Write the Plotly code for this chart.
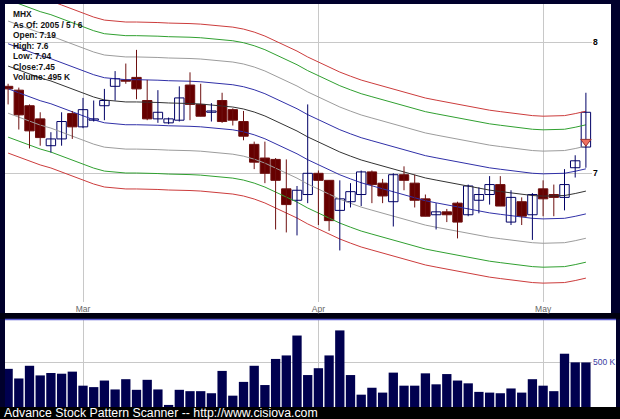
import plotly.graph_objects as go

# ---------------- data ----------------
dates = [
    "2005-02-17", "2005-02-18", "2005-02-22", "2005-02-23", "2005-02-24", "2005-02-25", "2005-02-28",
    "2005-03-01", "2005-03-02", "2005-03-03", "2005-03-04", "2005-03-07", "2005-03-08", "2005-03-09",
    "2005-03-10", "2005-03-11", "2005-03-14", "2005-03-15", "2005-03-16", "2005-03-17", "2005-03-18",
    "2005-03-21", "2005-03-22", "2005-03-23", "2005-03-24", "2005-03-28", "2005-03-29", "2005-03-30",
    "2005-03-31", "2005-04-01", "2005-04-04", "2005-04-05", "2005-04-06", "2005-04-07", "2005-04-08",
    "2005-04-11", "2005-04-12", "2005-04-13", "2005-04-14", "2005-04-15", "2005-04-18", "2005-04-19",
    "2005-04-20", "2005-04-21", "2005-04-22", "2005-04-25", "2005-04-26", "2005-04-27", "2005-04-28",
    "2005-04-29", "2005-05-02", "2005-05-03", "2005-05-04", "2005-05-05", "2005-05-06",
]
opens = [7.65, 7.62, 7.50, 7.40, 7.20, 7.25, 7.44, 7.34, 7.39, 7.50, 7.65, 7.70, 7.72, 7.54, 7.40,
         7.37, 7.39, 7.66, 7.51, 7.45, 7.54, 7.47, 7.38, 7.21, 7.11, 7.10, 6.89, 6.81, 6.85, 7.00,
         6.95, 6.74, 6.80, 6.85, 7.01, 6.93, 6.80, 6.99, 6.93, 6.82, 6.71, 6.73, 6.79, 6.71, 6.81,
         6.85, 6.92, 6.66, 6.80, 6.71, 6.89, 6.85, 6.83, 7.04, 7.19]
highs = [7.67, 7.64, 7.51, 7.45, 7.30, 7.45, 7.46, 7.56, 7.54, 7.63, 7.77, 7.83, 7.94, 7.70, 7.62,
         7.41, 7.65, 7.76, 7.67, 7.52, 7.60, 7.48, 7.46, 7.23, 7.23, 7.11, 7.10, 6.91, 7.51, 7.02,
         6.95, 6.95, 6.93, 7.02, 7.02, 6.96, 7.00, 7.05, 6.99, 6.85, 6.79, 6.75, 6.80, 6.92, 6.90,
         6.98, 6.98, 6.88, 6.83, 6.86, 6.95, 6.92, 7.03, 7.13, 7.60]
lows = [7.51, 7.32, 7.18, 7.20, 7.15, 7.20, 7.25, 7.33, 7.38, 7.39, 7.54, 7.67, 7.55, 7.39, 7.37,
        7.36, 7.38, 7.39, 7.42, 7.38, 7.37, 7.35, 7.24, 7.03, 6.93, 6.61, 6.59, 6.57, 6.79, 6.64,
        6.60, 6.47, 6.76, 6.77, 6.79, 6.79, 6.63, 6.88, 6.76, 6.70, 6.61, 6.66, 6.55, 6.70, 6.72,
        6.78, 6.77, 6.64, 6.64, 6.54, 6.70, 6.70, 6.74, 6.97, 7.04]
closes = [7.63, 7.43, 7.31, 7.26, 7.25, 7.38, 7.34, 7.47, 7.40, 7.54, 7.71, 7.69, 7.63, 7.40, 7.45,
          7.40, 7.56, 7.51, 7.42, 7.46, 7.38, 7.39, 7.27, 7.08, 7.00, 6.95, 6.78, 6.88, 7.00, 6.95,
          6.67, 6.82, 6.87, 7.01, 6.92, 6.84, 6.99, 6.95, 6.81, 6.70, 6.73, 6.71, 6.66, 6.91, 6.85,
          6.92, 6.77, 6.83, 6.70, 6.85, 6.82, 6.83, 6.92, 7.09, 7.45]
volume_k = [424, 317, 458, 351, 378, 370, 393, 237, 221, 294, 195, 309, 191, 302, 195, 23, 191, 176,
            176, 153, 401, 126, 279, 458, 244, 534, 573, 794, 355, 431, 573, 851, 355, 137, 214, 160,
            382, 237, 237, 374, 252, 366, 294, 263, 168, 160, 153, 206, 160, 309, 237, 176, 592, 496,
            495]
center_line = [7.810, 7.779, 7.747, 7.716, 7.692, 7.661, 7.629, 7.598, 7.567, 7.544, 7.537, 7.529,
               7.529, 7.529, 7.525, 7.521, 7.521, 7.517, 7.513, 7.506, 7.498, 7.490, 7.475, 7.452,
               7.422, 7.384, 7.347, 7.309, 7.265, 7.228, 7.191, 7.154, 7.124, 7.096, 7.074, 7.053,
               7.031, 7.010, 6.988, 6.967, 6.952, 6.938, 6.920, 6.906, 6.892, 6.881, 6.871, 6.861,
               6.850, 6.843, 6.839, 6.839, 6.843, 6.857, 6.874]
envelope_pct = [0.023, 0.047, 0.070, 0.085]
envelope_colors = ["#3030a8", "#9c9c9c", "#30a030", "#cc3c3c"]
signal_price = 7.23

symbol = "MHX"
as_of = "2005 / 5 / 6"
month_ticks = ["2005-03-01", "2005-04-01", "2005-05-02"]
month_labels = ["Mar", "Apr", "May"]
price_ticks = [7, 8]
volume_ticks = [500000]
volume_tick_labels = ["500 K"]

# ---------------- geometry helpers (pixel -> paper) ----------------
W, H = 620, 419
ML, MR, MT, MB = 5, 28, 4, 12
PW, PH = W - ML - MR, H - MT - MB


def paper_x(px):
    return (px - ML) / PW


def paper_y(py):
    return (H - MB - py) / PH


FONT = "Liberation Sans"
GRID = "#c8c8c8"
UP_LINE, DOWN_FILL, DOWN_LINE = "#000066", "#660000", "#6e1010"
BODY_WIDTH = 0.88

fig = go.Figure()

# envelope bands around the centre line
for pct, col in zip(envelope_pct, envelope_colors):
    for sign in (1, -1):
        fig.add_trace(go.Scatter(
            x=dates, y=[c * (1 + sign * pct) for c in center_line],
            mode="lines", line=dict(color=col, width=1),
            hoverinfo="skip", xaxis="x", yaxis="y"))
fig.add_trace(go.Scatter(
    x=dates, y=center_line, mode="lines", line=dict(color="#333333", width=1),
    hoverinfo="skip", xaxis="x", yaxis="y"))

# candles: wicks first, then bodies on top
up_idx = [i for i in range(len(dates)) if closes[i] > opens[i]]
dn_idx = [i for i in range(len(dates)) if closes[i] <= opens[i]]


def wick_xy(idx):
    xs, ys = [], []
    for i in idx:
        xs += [dates[i], dates[i], None]
        ys += [lows[i], highs[i], None]
    return xs, ys


for idx, col in ((up_idx, UP_LINE), (dn_idx, DOWN_LINE)):
    wx, wy = wick_xy(idx)
    fig.add_trace(go.Scatter(x=wx, y=wy, mode="lines", line=dict(color=col, width=1),
                             hoverinfo="skip", xaxis="x", yaxis="y"))

fig.add_trace(go.Bar(
    x=[dates[i] for i in up_idx], base=[opens[i] for i in up_idx],
    y=[closes[i] - opens[i] for i in up_idx], width=BODY_WIDTH,
    marker=dict(color="#ffffff", line=dict(color=UP_LINE, width=1)),
    hoverinfo="skip", xaxis="x", yaxis="y"))
fig.add_trace(go.Bar(
    x=[dates[i] for i in dn_idx], base=[closes[i] for i in dn_idx],
    y=[opens[i] - closes[i] for i in dn_idx], width=BODY_WIDTH,
    marker=dict(color=DOWN_FILL, line=dict(color=DOWN_LINE, width=1)),
    hoverinfo="skip", xaxis="x", yaxis="y"))

# pattern signal on the last bar
fig.add_trace(go.Scatter(
    x=[dates[-1]], y=[signal_price], mode="markers",
    marker=dict(symbol="triangle-down", size=9, color="#f07060",
                line=dict(color="#993333", width=1)),
    hoverinfo="skip", xaxis="x", yaxis="y"))

# volume bars
fig.add_trace(go.Bar(
    x=dates, y=[v * 1000 for v in volume_k], width=0.87,
    marker=dict(color="#00004f", line=dict(width=0)),
    xaxis="x2", yaxis="y2"))

# panel backgrounds and borders
shapes = [
    dict(type="rect", xref="paper", yref="paper", layer="below",
         x0=paper_x(5), x1=paper_x(611), y0=paper_y(313), y1=paper_y(4),
         fillcolor="white", line=dict(width=0)),
    dict(type="rect", xref="paper", yref="paper", layer="below",
         x0=paper_x(0), x1=paper_x(620), y0=paper_y(319), y1=paper_y(313),
         fillcolor="#000010", line=dict(width=0)),
    dict(type="rect", xref="paper", yref="paper", layer="below",
         x0=paper_x(5), x1=paper_x(616), y0=paper_y(407), y1=paper_y(319),
         fillcolor="white", line=dict(width=0)),
    dict(type="line", xref="paper", yref="paper", layer="above",
         x0=paper_x(5), x1=paper_x(616), y0=paper_y(319.5), y1=paper_y(319.5),
         line=dict(color="#5a5ad0", width=1.5)),
    dict(type="rect", xref="paper", yref="paper", layer="below",
         x0=paper_x(0), x1=paper_x(620), y0=paper_y(419), y1=paper_y(407),
         fillcolor="#000000", line=dict(width=0)),
]

# quote summary in the upper-left corner
info_lines = [
    symbol,
    f"As Of: {as_of}",
    f"Open: {opens[-1]:g}",
    f"High: {highs[-1]:g}",
    f"Low: {lows[-1]:g}",
    f"Close:{closes[-1]:g}",
    f"Volume: {volume_k[-1]} K",
]
annotations = []
for k, line in enumerate(info_lines):
    annotations.append(dict(
        xref="paper", yref="paper", x=paper_x(11), y=paper_y(14.5 + 10.45 * k),
        xanchor="left", yanchor="middle", showarrow=False, text=line,
        font=dict(family=FONT, size=8.4, color="#111111", weight="bold")))

annotations.append(dict(
    xref="paper", yref="paper", x=paper_x(2), y=paper_y(413),
    xanchor="left", yanchor="middle", showarrow=False,
    text="Advance Stock Pattern Scanner -- http://www.cisiova.com",
    font=dict(family=FONT, size=12.3, color="white")))

price_dom = [paper_y(302), 1.0]
vol_dom = [0.0, paper_y(319)]

fig.update_layout(
    width=W, height=H,
    margin=dict(l=ML, r=MR, t=MT, b=MB, pad=0),
    paper_bgcolor="#00002c", plot_bgcolor="rgba(0,0,0,0)",
    showlegend=False, barmode="overlay",
    shapes=shapes, annotations=annotations,
    xaxis=dict(
        type="category", categoryorder="array", categoryarray=dates,
        range=[-0.29, 54.57], domain=[0, 1], anchor="y",
        tickmode="array", tickvals=month_ticks, ticktext=month_labels,
        tickfont=dict(family=FONT, size=8.5, color="#666666"),
        showgrid=True, gridcolor=GRID, gridwidth=1, ticks="",
        showline=False, zeroline=False),
    yaxis=dict(
        type="log", range=[0.788045, 0.920158], domain=price_dom, anchor="x",
        side="right", tickmode="array", tickvals=price_ticks,
        ticktext=[str(t) for t in price_ticks],
        tickfont=dict(family=FONT, size=8.5, color="#000000", weight="bold"),
        showgrid=True, gridcolor=GRID, gridwidth=1, ticks="",
        showline=False, zeroline=False),
    xaxis2=dict(
        type="category", matches="x", anchor="y2", domain=[0, 1],
        tickmode="array", tickvals=month_ticks, showticklabels=False,
        showgrid=True, gridcolor=GRID, gridwidth=1, ticks="",
        showline=False, zeroline=False),
    yaxis2=dict(
        range=[0, 977778], domain=vol_dom, anchor="x2", side="right",
        tickmode="array", tickvals=volume_ticks, ticktext=volume_tick_labels,
        tickfont=dict(family=FONT, size=8.5, color="#3a3aa0"),
        showgrid=True, gridcolor=GRID, gridwidth=1, ticks="",
        showline=False, zeroline=False),
)

fig.write_html("out.html")
